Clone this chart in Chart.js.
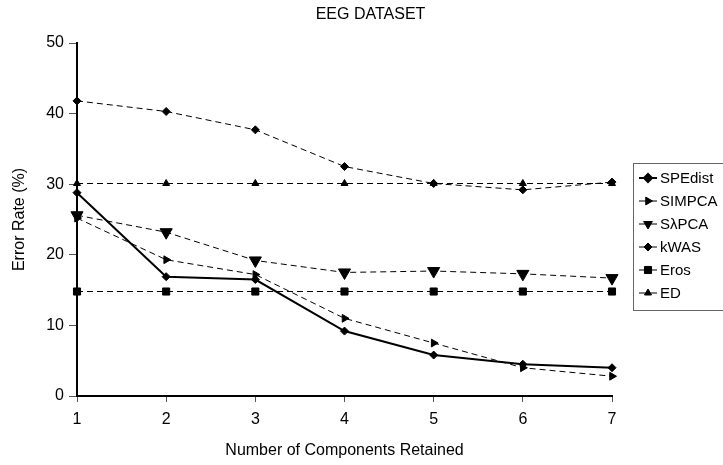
<!DOCTYPE html>
<html>
<head>
<meta charset="utf-8">
<script src="https://cdn.jsdelivr.net/npm/chart.js@4.4.0/dist/chart.umd.min.js"></script>
<style>
  html, body { margin: 0; padding: 0; background: #fff; }
</style>
</head>
<body>
<canvas id="chartEEG" width="723" height="465"></canvas>
<script>
// data
const components = [1, 2, 3, 4, 5, 6, 7];
const speDist = [28.8, 16.9, 16.5, 9.2, 5.8, 4.5, 4.0];
const simPCA = [25.2, 19.3, 17.2, 11.0, 7.5, 4.0, 2.8];
const slamPCA = [25.6, 23.2, 19.2, 17.5, 17.7, 17.3, 16.7];
const kWAS = [41.8, 40.3, 37.7, 32.5, 30.1, 29.2, 30.3];
const eros = [14.8, 14.8, 14.8, 14.8, 14.8, 14.8, 14.8];
const ed = [30.1, 30.1, 30.1, 30.1, 30.1, 30.1, 30.1];

const FONT = '"Liberation Sans", Arial, sans-serif';
const legendBox = { x: 633, y: 163, w: 95, h: 147 };

function serie(label, data, style, radius, rotation, solid) {
    return {
        label: label,
        data: data,
        borderColor: '#000',
        backgroundColor: '#000',
        borderWidth: solid ? 2 : 1,
        borderDash: solid ? [] : [6, 4],
        pointStyle: style,
        pointRotation: rotation,
        pointRadius: radius,
        pointHoverRadius: radius,
        pointBackgroundColor: '#000',
        pointBorderColor: '#000',
        pointBorderWidth: 1,
        tension: 0,
        clip: false
    };
}

// title + boxed legend with line samples
const eegExtras = {
    id: 'eegExtras',
    afterDraw(chart) {
        const ctx = chart.ctx;
        const area = chart.chartArea;
        ctx.save();
        ctx.fillStyle = '#000';
        ctx.font = '16px ' + FONT;
        ctx.textAlign = 'center';
        ctx.textBaseline = 'middle';
        ctx.fillText('EEG DATASET', (area.left + area.right) / 2 + 26, 15);

        ctx.strokeStyle = '#666';
        ctx.lineWidth = 1;
        ctx.strokeRect(legendBox.x + 0.5, legendBox.y + 0.5, legendBox.w, legendBox.h);

        ctx.textAlign = 'left';
        ctx.font = '15px ' + FONT;
        chart.data.datasets.forEach(function (ds, i) {
            const y = legendBox.y + 15 + i * 23;
            ctx.save();
            ctx.strokeStyle = '#000';
            ctx.lineWidth = ds.borderWidth;
            ctx.beginPath();
            ctx.moveTo(legendBox.x + 6, y);
            ctx.lineTo(legendBox.x + 24, y);
            ctx.stroke();
            ctx.fillStyle = '#000';
            Chart.helpers.drawPoint(ctx, {
                pointStyle: ds.pointStyle,
                rotation: ds.pointRotation,
                radius: Math.min(ds.pointRadius, 5),
                borderWidth: 1
            }, legendBox.x + 15, y);
            ctx.restore();
            ctx.fillStyle = '#000';
            ctx.fillText(ds.label, legendBox.x + 27, y + 1);
        });
        ctx.restore();
    }
};

const ctxEEG = document.getElementById('chartEEG');
const chartEEG = new Chart(ctxEEG, {
    type: 'line',
    data: {
        labels: components,
        datasets: [
            serie('SPEdist', speDist, 'rectRot', 4, 0, true),
            serie('SIMPCA', simPCA, 'triangle', 4.5, 90, false),
            serie('S\u03BBPCA', slamPCA, 'triangle', 7, 180, false),
            serie('kWAS', kWAS, 'rectRot', 4, 0, false),
            serie('Eros', eros, 'rect', 5, 0, false),
            serie('ED', ed, 'triangle', 4, 0, false)
        ]
    },
    options: {
        responsive: false,
        animation: false,
        layout: { padding: { top: 43, right: 111, left: 0, bottom: 0 } },
        plugins: {
            legend: { display: false },
            title: { display: false },
            tooltip: { enabled: false }
        },
        scales: {
            x: {
                offset: false,
                afterFit: function (scale) { scale.height = 69; },
                border: { display: true, color: '#000', width: 2 },
                grid: { display: true, drawOnChartArea: false, drawTicks: true, tickLength: 6, tickColor: '#555' },
                ticks: { color: '#000', padding: 8, font: { family: FONT, size: 16 }, maxRotation: 0 },
                title: {
                    display: true,
                    text: 'Number of Components Retained',
                    color: '#000',
                    font: { family: FONT, size: 16 },
                    padding: { top: 0, bottom: 5 }
                }
            },
            y: {
                min: 0,
                max: 50,
                afterFit: function (scale) { scale.width = 77; },
                border: { display: true, color: '#000', width: 2 },
                grid: { display: true, drawOnChartArea: false, drawTicks: true, tickLength: 8, tickColor: '#555' },
                ticks: { color: '#000', padding: 5, stepSize: 10, font: { family: FONT, size: 16 } },
                title: {
                    display: true,
                    text: 'Error Rate (%)',
                    color: '#000',
                    font: { family: FONT, size: 16 },
                    padding: { top: 10, bottom: 0 }
                }
            }
        }
    },
    plugins: [eegExtras]
});
</script>
</body>
</html>
